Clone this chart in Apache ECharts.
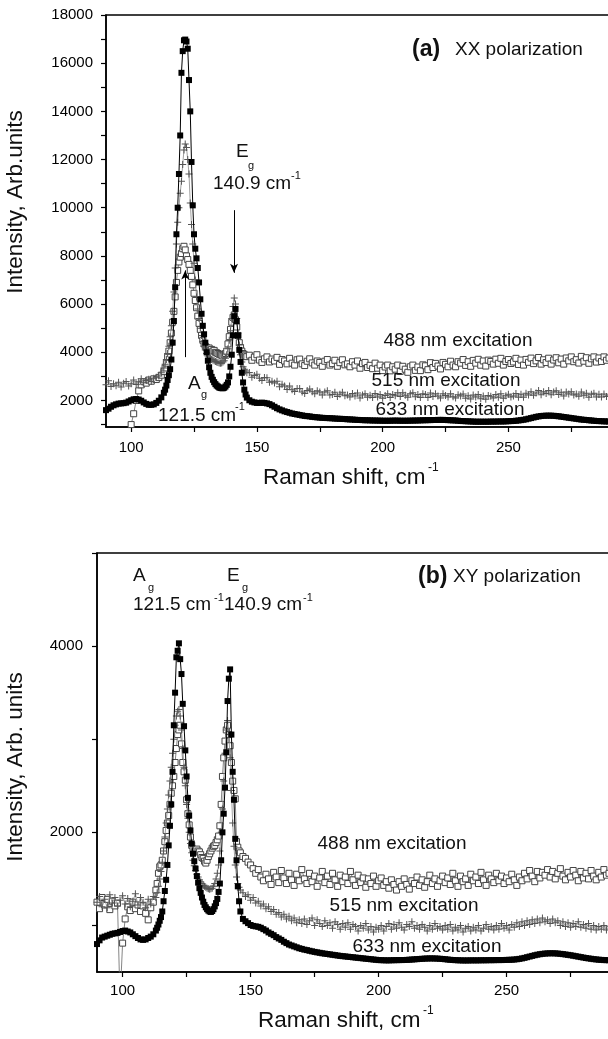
<!DOCTYPE html>
<html><head><meta charset="utf-8">
<script src="https://cdn.jsdelivr.net/npm/echarts@6/dist/echarts.min.js"></script>
<style>html,body{margin:0;padding:0;background:#fff}#c{width:608px;height:1039px}</style>
</head><body><div id="c"></div>
<script>
// Raman shift (cm-1) sample positions shared by all series
const shift = [
90,91,92,93,94,95,96,97,98,99,
100,101,102,103,104,105,106,107,108,109,
110,111,112,113,
113.5,114,114.5,115,115.5,116,116.5,117,117.5,118,
118.5,119,119.5,120,120.5,121,121.5,122,122.5,123,
123.5,124,124.5,125,125.5,126,126.5,127,127.5,128,
128.5,129,129.5,130,130.5,131,131.5,132,132.5,133,
133.5,134,134.5,135,135.5,136,136.5,137,137.5,138,
138.5,139,139.5,140,140.5,141,141.5,142,142.5,143,
143.5,144,144.5,145,145.5,146,
147,148,149,150,151,152,153,154,155,156,
157,158,159,160,161,162,163,164,165,166,
167,168,169,170,171,172,173,174,175,176,
177,178,179,180,181,182,183,184,185,186,
187,188,189,190,191,192,193,194,195,196,
197,198,199,200,201,202,203,204,205,206,
207,208,209,210,211,212,213,214,215,216,
217,218,219,220,221,222,223,224,225,226,
227,228,229,230,231,232,233,234,235,236,
237,238,239,240,241,242,243,244,245,246,
247,248,249,250,251,252,253,254,255,256,
257,258,259,260,261,262,263,264,265,266,
267,268,269,270,271,272,273,274,275,276,
277,278,279,280,281,282,283,284,285,286,
287,288,289,290];

// (a) XX polarization
const a633 = [
1600,1660,1740,1800,1840,1870,1880,1890,1910,1960,
2010,2050,2060,2040,1990,1920,1860,1820,1820,1840,
1900,1990,2130,2320,
2450,2620,2850,3050,3300,3700,4400,5300,6700,8900,
10000,11400,13000,15600,16500,16950,16980,16900,16600,15300,
14000,11900,10100,8900,8300,7900,7500,6900,6200,5600,
5100,4750,4400,4000,3650,3380,3150,2980,2860,2760,
2680,2620,2580,2540,2520,2510,2510,2530,2580,2650,
2750,3000,3400,3900,4700,5500,5800,5300,4700,4100,
3600,3150,2750,2450,2250,2120,
2010,1950,1920,1900,1900,1910,1900,1880,1850,1800,
1740,1680,1630,1590,1550,1520,1490,1460,1440,1420,
1400,1380,1360,1350,1340,1320,1310,1300,1290,1280,
1275,1270,1265,1260,1250,1245,1240,1235,1230,1220,
1215,1210,1200,1195,1190,1185,1180,1180,1175,1170,
1170,1165,1165,1160,1160,1160,1160,1165,1165,1165,
1160,1160,1160,1160,1165,1165,1170,1170,1175,1180,
1180,1185,1185,1190,1190,1195,1195,1195,1190,1185,
1180,1175,1170,1160,1150,1145,1140,1135,1130,1125,
1120,1120,1120,1120,1120,1120,1125,1125,1125,1130,
1130,1130,1135,1140,1145,1150,1160,1170,1185,1200,
1220,1245,1270,1295,1320,1340,1355,1365,1370,1372,
1370,1365,1355,1345,1330,1315,1300,1285,1270,1255,
1240,1225,1210,1200,1190,1180,1170,1160,1150,1145,
1140,1135,1130,1125];
const a515 = [
2650,2820,2580,2700,2610,2760,2560,2720,2790,2600,
2700,2850,2660,2780,2900,2740,2830,2880,2790,2920,
2960,3020,3150,3350,
3500,3700,3950,4250,4650,5100,5700,6500,7500,8500,
9400,10000,10600,11100,11800,12400,12650,12500,12000,11400,
10200,9300,8500,7700,7000,6300,5800,5400,5000,4700,
4450,4250,4100,3950,3850,3800,3750,3700,3680,3650,
3620,3600,3580,3560,3550,3560,3600,3650,3750,3900,
4150,4500,4900,5400,5900,6250,6000,5400,4800,4300,
3900,3600,3400,3300,3220,3150,
3160,2970,3040,3090,2920,2830,2950,2940,2760,2800,
2730,2800,2570,2670,2600,2460,2600,2450,2370,2500,
2500,2350,2295,2420,2480,2360,2280,2400,2350,2230,
2350,2400,2225,2250,2345,2170,2260,2345,2200,2225,
2150,2295,2190,2310,2105,2230,2280,2135,2215,2120,
2290,2150,2250,2090,2205,2280,2125,2250,2195,2320,
2165,2320,2220,2130,2280,2320,2155,2245,2120,2280,
2245,2125,2310,2170,2275,2185,2105,2280,2210,2140,
2285,2160,2105,2240,2185,2270,2095,2200,2060,2225,
2145,2250,2070,2190,2050,2210,2175,2100,2245,2130,
2275,2090,2195,2260,2145,2190,2295,2130,2260,2130,
2305,2230,2365,2220,2315,2420,2240,2365,2290,2410,
2235,2350,2400,2250,2340,2190,2350,2265,2360,2225,
2270,2175,2350,2215,2300,2135,2260,2300,2140,2255,
2140,2265,2170,2230];
const a488 = [
null,null,null,null,null,null,null,null,null,300,
1000,1450,2000,2400,2650,2780,2720,2850,2800,2900,
2870,2950,3050,3200,
3350,3550,3800,4050,4400,4800,5250,5700,6300,6900,
7400,7750,7950,8100,8300,8400,8250,8000,7850,7650,
7400,7150,6800,6450,6150,5850,5500,5200,4950,4700,
4500,4350,4250,4200,4150,4180,4100,4120,4050,4080,
4000,3980,3950,3920,3900,3880,3850,3900,3950,4050,
4350,4650,4950,5250,5450,5550,5350,5050,4700,4400,
4200,4050,3950,3900,3850,3820,
3880,3670,3800,3900,3680,3580,3730,3810,3600,3720,
3640,3790,3500,3700,3640,3520,3750,3550,3470,3690,
3720,3520,3450,3630,3730,3560,3470,3640,3580,3420,
3630,3700,3470,3530,3670,3420,3570,3690,3480,3520,
3400,3610,3470,3640,3340,3530,3580,3370,3460,3320,
3550,3340,3470,3240,3390,3470,3230,3400,3300,3470,
3210,3420,3300,3170,3400,3470,3250,3390,3240,3480,
3440,3280,3570,3370,3540,3430,3310,3580,3500,3400,
3630,3470,3400,3610,3550,3700,3455,3610,3420,3665,
3550,3710,3465,3640,3430,3675,3620,3510,3715,3545,
3750,3470,3620,3700,3535,3600,3750,3495,3680,3470,
3705,3585,3760,3530,3645,3785,3510,3690,3575,3755,
3510,3680,3775,3565,3720,3510,3765,3645,3810,3610,
3695,3555,3830,3630,3775,3545,3730,3810,3595,3765,
3620,3810,3670,3760];

// (b) XY polarization
const b633 = [
800,840,870,880,890,900,910,915,920,930,
940,945,935,925,905,885,865,850,845,850,
865,880,905,945,
975,1010,1050,1090,1150,1260,1370,1490,1650,1860,
2070,2300,2650,3150,3500,3880,3950,4030,3860,3700,
3380,3140,2880,2600,2370,2180,2020,1880,1770,1690,
1610,1530,1460,1400,1350,1300,1255,1220,1195,1175,
1160,1150,1145,1155,1175,1205,1240,1285,1360,1450,
1700,2000,2200,2480,2860,3410,3650,3750,3050,2650,
2350,1930,1700,1420,1260,1150,
1070,1045,1025,1005,995,990,985,975,960,945,
925,910,895,875,860,845,825,810,795,785,
775,765,755,748,740,735,728,722,716,711,
706,701,697,693,689,685,681,677,673,670,
667,664,661,658,655,652,649,646,643,640,
637,634,631,628,627,626,625,625,626,627,
627,628,628,629,630,632,634,636,638,640,
642,644,645,646,646,645,644,642,640,637,
634,631,629,627,626,625,624,624,624,625,
625,625,625,626,626,626,627,627,627,628,
628,628,629,630,631,632,634,637,641,646,
652,659,666,673,680,686,691,695,698,700,
701,701,700,698,695,692,688,684,680,675,
670,665,660,655,650,646,642,638,635,632,
630,628,627,626];
const b515 = [
1250,1310,1200,1280,1190,1330,1240,1300,1210,1270,
1320,1230,1290,1200,1260,1340,1220,1300,1250,1190,
1280,1230,1310,1300,
1350,1420,1500,1580,1680,1800,1950,2100,2250,2400,
2550,2700,2850,3000,3150,3250,3300,3320,3250,3100,
2900,2700,2500,2300,2150,2000,1880,1780,1700,1640,
1590,1550,1520,1490,1470,1450,1430,1420,1410,1400,
1395,1390,1395,1400,1420,1450,1500,1560,1650,1800,
2000,2250,2550,2850,3100,3200,3050,2800,2450,2100,
1850,1650,1520,1450,1410,1380,
1350,1310,1330,1270,1300,1240,1260,1210,1230,1180,
1200,1150,1170,1120,1140,1090,1120,1070,1100,1050,
1080,1030,1060,1020,1070,1010,1050,1080,1000,1060,
1020,990,1050,1000,1030,970,1040,1010,960,1020,
980,1030,960,1010,990,940,1000,970,1020,950,
990,930,980,960,1000,940,990,1020,960,1010,
970,1030,980,950,1010,990,1040,970,1000,960,
1010,980,940,1000,960,1020,970,990,950,1000,
960,1010,940,980,950,1000,930,970,990,940,
980,950,1000,940,970,1010,960,990,950,1000,
960,1020,970,1000,950,1010,980,1030,990,1040,
1000,1050,1010,1060,1020,1070,1030,1080,1040,1060,
1020,1070,1030,1050,1000,1040,990,1030,980,1020,
990,1040,980,1010,970,1020,960,1000,950,990,
960,1000,950,985];
const b488 = [
1250,1180,1300,1220,1280,1170,1260,1210,1240,200,
810,1070,1200,1160,1250,1180,1220,1150,1210,1130,
1060,1190,1250,1380,
1450,1560,1630,1650,1700,1800,1900,2020,2100,2180,
2300,2420,2500,2600,2750,2900,3050,3100,3150,2950,
2750,2650,2560,2350,2200,2080,1950,1860,1820,1790,
1800,1820,1800,1790,1760,1730,1720,1690,1670,1700,
1740,1770,1800,1830,1850,1860,1890,1920,1960,2070,
2300,2600,2800,2980,3100,3150,3050,2930,2750,2550,
2450,2360,1900,1840,1800,1780,
1740,1720,1680,1650,1610,1560,1600,1520,1480,1550,
1500,1440,1570,1520,1460,1590,1510,1450,1560,1490,
1430,1550,1480,1600,1500,1450,1560,1470,1530,1420,
1510,1580,1460,1530,1440,1560,1490,1420,1540,1470,
1520,1450,1580,1490,1430,1540,1460,1510,1410,1500,
1450,1530,1420,1480,1510,1430,1470,1400,1490,1440,
1380,1470,1420,1500,1440,1390,1480,1450,1520,1430,
1490,1410,1470,1540,1450,1500,1420,1480,1530,1460,
1510,1440,1560,1480,1420,1530,1470,1500,1430,1550,
1480,1520,1450,1570,1490,1430,1540,1500,1460,1560,
1480,1530,1450,1510,1470,1550,1490,1430,1520,1480,
1560,1500,1590,1530,1470,1580,1510,1570,1540,1600,
1520,1580,1500,1560,1610,1530,1490,1570,1520,1590,
1540,1480,1580,1510,1560,1500,1590,1530,1490,1570,
1520,1600,1540,1560];

// axis ticks and tick labels
const xTicks = [100,125,150,175,200,225,250,275];
const xLabels = [100,150,200,250];
const aYTicks = [1000,2000,3000,4000,5000,6000,7000,8000,9000,10000,11000,12000,13000,14000,15000,16000,17000,18000];
const aYLabels = [2000,4000,6000,8000,10000,12000,14000,16000,18000];
const bYTicks = [1000,2000,3000,4000,5000];
const bYLabels = [2000,4000];

[['a633',a633],['a515',a515],['a488',a488],['b633',b633],['b515',b515],['b488',b488]].forEach(function(p){
  if (p[1].length !== shift.length) throw new Error(p[0] + ' length ' + p[1].length + ' vs ' + shift.length);
});

const FF = 'Liberation Sans, Arial, Helvetica, sans-serif';
function pairs(ys){ const o=[]; for(let i=0;i<shift.length;i++){ if(ys[i]!==null) o.push([shift[i], ys[i]]); } return o; }
function plain(v){ return String(v); }

function xAx(gi, margin){
  return { type:'value', gridIndex:gi, min:90, max:290,
    axisLine:{show:true,onZero:false,lineStyle:{color:'#000',width:1.5}},
    axisTick:{show:true,inside:false,length:5,customValues:xTicks,lineStyle:{color:'#000',width:1.2}},
    axisLabel:{customValues:xLabels,formatter:plain,color:'#000',fontSize:15,fontFamily:FF,margin:margin},
    splitLine:{show:false} };
}
function yAx(gi, min, max, ticks, labels, margin){
  return { type:'value', gridIndex:gi, min:min, max:max,
    axisLine:{show:true,onZero:false,lineStyle:{color:'#000',width:1.5}},
    axisTick:{show:true,inside:false,length:5,customValues:ticks,lineStyle:{color:'#000',width:1.2}},
    axisLabel:{customValues:labels,formatter:plain,color:'#000',fontSize:15,fontFamily:FF,margin:margin},
    splitLine:{show:false} };
}
const plusPath = 'path://M3,0H4V3H7V4H4V7H3V4H0V3H3Z';
function s633(gi, ys, extra){
  return Object.assign({ type:'line', xAxisIndex:gi, yAxisIndex:gi, data:pairs(ys),
    symbol:'rect', symbolSize:6, itemStyle:{color:'#000'}, lineStyle:{color:'#000',width:1},
    z:4, silent:true, animation:false }, extra||{});
}
function s515(gi, ys){
  return { type:'line', xAxisIndex:gi, yAxisIndex:gi, data:pairs(ys),
    symbol:plusPath, symbolSize:7, itemStyle:{color:'#555'}, lineStyle:{color:'#888',width:0.8},
    z:3, silent:true, animation:false };
}
function s488(gi, ys){
  return { type:'line', xAxisIndex:gi, yAxisIndex:gi, data:pairs(ys),
    symbol:'rect', symbolSize:6, itemStyle:{color:'#fff',borderColor:'#444',borderWidth:1}, lineStyle:{color:'#666',width:0.8},
    z:2, silent:true, animation:false };
}
function T(x, y, text, size, opt){
  opt = opt || {};
  const st = { text:text, fontSize:size, fontFamily:FF, fontWeight:opt.bold?'bold':'normal', fill:'#111',
    align:opt.align||'left', verticalAlign:'middle', textAlign:opt.align||'left', textVerticalAlign:'middle' };
  const el = { type:'text', x:x, y:y, z:100, silent:true, style:st };
  if (opt.rot) el.rotation = opt.rot;
  return el;
}

const graphics = [
  // panel (a)
  T(412, 50, '(a)', 23, {bold:true}),
  T(455, 50, 'XX polarization', 19),
  T(236, 152, 'E', 19), T(248, 166, 'g', 11),
  T(213, 184, '140.9 cm', 19), T(291, 176, '-1', 11),
  T(188, 384, 'A', 19), T(201, 395, 'g', 11),
  T(158, 416, '121.5 cm', 19), T(235, 407, '-1', 11),
  T(458, 341, '488 nm excitation', 19, {align:'center'}),
  T(446, 381, '515 nm excitation', 19, {align:'center'}),
  T(450, 410, '633 nm excitation', 19, {align:'center'}),
  T(263, 478, 'Raman shift, cm', 22.5), T(428, 468, '-1', 12),
  T(16, 202, 'Intensity, Arb.units', 22.5, {align:'center', rot:Math.PI/2}),
  // panel (b)
  T(418, 577, '(b)', 23, {bold:true}),
  T(453, 577, 'XY polarization', 19),
  T(133, 576, 'A', 19), T(148, 588, 'g', 11),
  T(227, 576, 'E', 19), T(242, 588, 'g', 11),
  T(133, 605, '121.5 cm', 19), T(214, 598, '-1', 11),
  T(224, 605, '140.9 cm', 19), T(303, 598, '-1', 11),
  T(392, 844, '488 nm excitation', 19, {align:'center'}),
  T(404, 906, '515 nm excitation', 19, {align:'center'}),
  T(427, 947, '633 nm excitation', 19, {align:'center'}),
  T(258, 1021, 'Raman shift, cm', 22.5), T(423, 1011, '-1', 12),
  T(16, 767, 'Intensity, Arb. units', 22.5, {align:'center', rot:Math.PI/2})
];

const chart = echarts.init(document.getElementById('c'), null, {renderer:'canvas'});
chart.setOption({
  animation:false,
  backgroundColor:'#fff',
  grid:[
    {left:106, top:15, right:-1, bottom:612, show:true, borderColor:'#000', borderWidth:1.5, backgroundColor:'transparent', containLabel:false, outerBoundsMode:'none'},
    {left:97, top:553, right:-1, bottom:67, show:true, borderColor:'#000', borderWidth:1.5, backgroundColor:'transparent', containLabel:false, outerBoundsMode:'none'}
  ],
  xAxis:[ xAx(0, 13), xAx(1, 11) ],
  yAxis:[ yAx(0, 900, 18000, aYTicks, aYLabels, 13), yAx(1, 500, 5000, bYTicks, bYLabels, 14) ],
  series:[
    s488(0, a488), s515(0, a515),
    s633(0, a633, { markLine:{ silent:true, animation:false, symbol:['none','arrow'], symbolSize:[6,9],
      label:{show:false}, lineStyle:{color:'#000',width:1,type:'solid'},
      data:[ [{coord:[140.9, 9900]},{coord:[140.9, 7300]}], [{coord:[121.5, 3800]},{coord:[121.5, 7400]}] ] } }),
    s488(1, b488), s515(1, b515), s633(1, b633)
  ],
  graphic: graphics
});
</script></body></html>
